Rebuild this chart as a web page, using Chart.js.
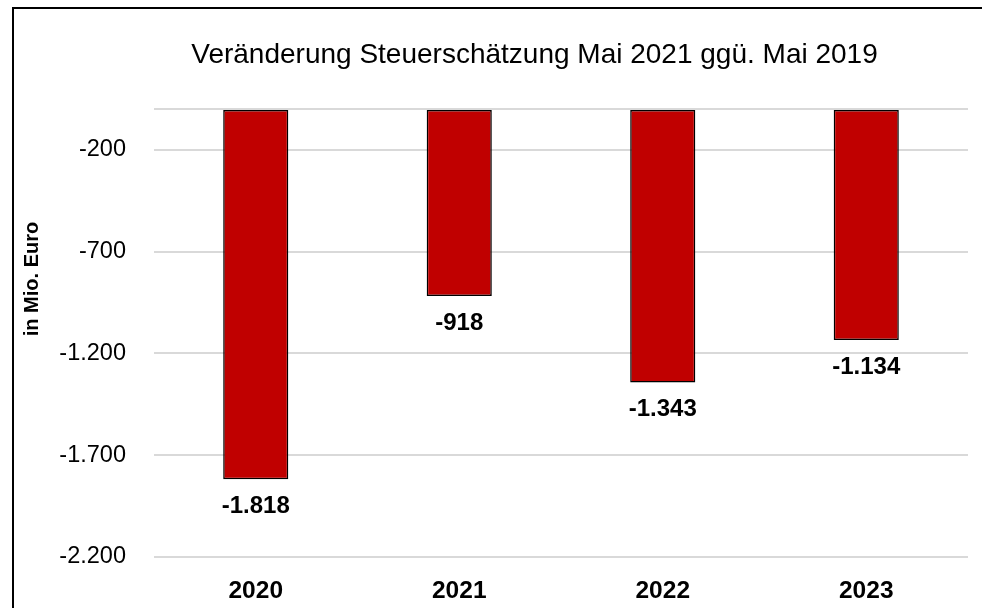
<!DOCTYPE html>
<html>
<head>
<meta charset="utf-8">
<script src="https://cdn.jsdelivr.net/npm/chart.js@4"></script>
<style>
    html, body { margin: 0; padding: 0; background: #fff; }
    #wrap { width: 982px; height: 608px; }
</style>
</head>
<body>
<div id="wrap"><canvas id="myChart" width="982" height="608"></canvas></div>
<script>
// chart values
const years = ["2020", "2021", "2022", "2023"]
const changes = [-1818, -918, -1343, -1134]   // Mio. Euro
const yTicks = [0, -200, -700, -1200, -1700, -2200] // 0 line has no label

// German number format, e.g. -1.818
function fmt(v) {
    const s = String(Math.abs(v)).replace(/\B(?=(\d{3})+(?!\d))/g, ".")
    return (v < 0 ? "-" : "") + s
}

const FONT = "'Liberation Sans', Arial, sans-serif"

// value labels under each bar, title, outer frame, y axis title
const extras = {
    id: "extras",
    afterDatasetsDraw(chart) {
        const ctx = chart.ctx
        const meta = chart.getDatasetMeta(0)
        ctx.save()
        ctx.fillStyle = "#000"
        ctx.font = "bold 24px " + FONT
        ctx.textAlign = "center"
        ctx.textBaseline = "middle"
        meta.data.forEach((bar, i) => {
            ctx.fillText(fmt(changes[i]), bar.x, bar.y + 27)
        })
        ctx.restore()
    },
    afterDraw(chart) {
        const ctx = chart.ctx
        ctx.save()
        // frame
        ctx.strokeStyle = "#000"
        ctx.lineWidth = 2
        ctx.strokeRect(13, 8, 1000, 700)
        // chart title
        ctx.fillStyle = "#000"
        ctx.textAlign = "center"
        ctx.textBaseline = "middle"
        ctx.font = "28px " + FONT
        ctx.fillText("Veränderung Steuerschätzung Mai 2021 ggü. Mai 2019", 534.5, 55)
        // y axis title
        ctx.translate(32, 279)
        ctx.rotate(-Math.PI / 2)
        ctx.font = "bold 20px " + FONT
        ctx.fillText("in Mio. Euro", 0, 0)
        ctx.restore()
    }
}

const myChart = new Chart(document.getElementById("myChart"), {
    type: "bar",
    data: {
        labels: years,
        datasets: [{
            data: changes,
            backgroundColor: "#C00000",
            borderColor: "#000",
            borderWidth: 1.5,
            borderSkipped: false,
            barPercentage: 0.32,
            categoryPercentage: 1.0
        }]
    },
    options: {
        responsive: false,
        animation: false,
        layout: { padding: { left: 0, right: 14, top: 109, bottom: 0 } },
        scales: {
            x: {
                grid: { display: false, drawTicks: false },
                border: { display: false },
                afterFit: (axis) => { axis.height = 51 },
                ticks: {
                    color: "#000",
                    padding: 20,
                    font: { family: FONT, size: 24.5, weight: "bold" }
                }
            },
            y: {
                min: -2200,
                max: 0,
                afterBuildTicks: (axis) => {
                    axis.ticks = yTicks.map(v => ({ value: v }))
                },
                afterFit: (axis) => { axis.width = 154 },
                grid: { color: "#d9d9d9", lineWidth: 2, drawTicks: false },
                border: { display: false },
                ticks: {
                    color: "#000",
                    padding: 28,
                    font: { family: FONT, size: 23.5 },
                    callback: (v) => v === 0 ? "" : fmt(v)
                }
            }
        },
        plugins: {
            legend: { display: false },
            tooltip: { enabled: false },
            title: { display: false }
        }
    },
    plugins: [extras]
})
</script>
</body>
</html>
